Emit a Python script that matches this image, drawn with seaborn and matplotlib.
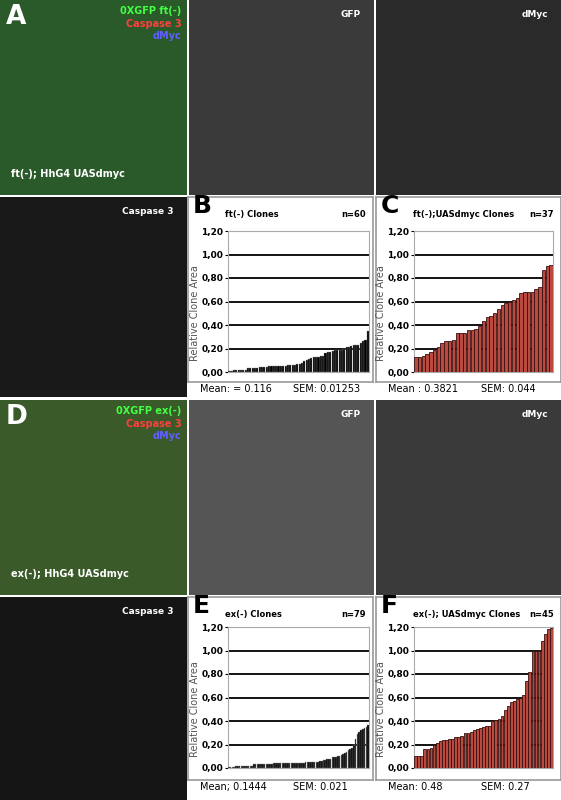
import matplotlib

matplotlib.use("Agg")
import matplotlib.pyplot as plt
import numpy as np
import pandas as pd
import seaborn as sns

W, H = 561, 800

ft_clones = [0.01, 0.01, 0.02, 0.02, 0.02, 0.02, 0.02, 0.02, 0.03, 0.03,
             0.03, 0.03, 0.03, 0.04, 0.04, 0.04, 0.04, 0.05, 0.05, 0.05,
             0.05, 0.05, 0.05, 0.05, 0.05, 0.06, 0.06, 0.06, 0.06, 0.07,
             0.07, 0.08, 0.09, 0.10, 0.11, 0.12, 0.13, 0.13, 0.13, 0.14,
             0.14, 0.16, 0.17, 0.17, 0.18, 0.19, 0.19, 0.19, 0.19, 0.20,
             0.21, 0.21, 0.22, 0.23, 0.23, 0.23, 0.25, 0.26, 0.27, 0.35]
ft_myc_clones = [0.13, 0.13, 0.14, 0.15, 0.17, 0.19, 0.21, 0.25, 0.26, 0.26,
                 0.27, 0.33, 0.33, 0.33, 0.36, 0.36, 0.37, 0.39, 0.43, 0.47,
                 0.48, 0.50, 0.54, 0.57, 0.59, 0.60, 0.61, 0.63, 0.67, 0.68,
                 0.68, 0.68, 0.71, 0.72, 0.87, 0.90, 0.91]
ex_clones = [0.01] * 4 + [0.02] * 10 + [0.03] * 11 + [0.04] * 18 + [0.05] * 8 + \
            [0.06, 0.06, 0.07, 0.07, 0.08, 0.08, 0.08, 0.09, 0.09,
             0.09, 0.10, 0.10, 0.11, 0.12, 0.13, 0.14, 0.15, 0.16, 0.17,
             0.20, 0.25, 0.29, 0.31, 0.32, 0.33, 0.34, 0.35, 0.37]
ex_myc_clones = [0.10, 0.10, 0.10, 0.16, 0.16, 0.17, 0.20, 0.21, 0.23, 0.24,
                 0.24, 0.25, 0.25, 0.26, 0.26, 0.27, 0.30, 0.30, 0.31, 0.32,
                 0.33, 0.34, 0.35, 0.36, 0.36, 0.40, 0.41, 0.42, 0.44, 0.49,
                 0.53, 0.56, 0.57, 0.59, 0.60, 0.62, 0.74, 0.82, 1.00, 1.00,
                 1.00, 1.08, 1.14, 1.18, 1.19]
yticks = [0.0, 0.2, 0.4, 0.6, 0.8, 1.0, 1.2]
ytick_labels = ["0,00", "0,20", "0,40", "0,60", "0,80", "1,00", "1,20"]


def px(x, y, w, h):
    return [x / W, 1 - (y + h) / H, w / W, h / H]


fig = plt.figure(figsize=(W / 100, H / 100), dpi=100)
fig.patch.set_facecolor("white")


def image_panel(rect, label=None, caption=None, color="#1a1a1a", corner=None, legend=None):
    ax = fig.add_axes(px(*rect))
    ax.set_facecolor(color)
    ax.set_xticks([])
    ax.set_yticks([])
    for s in ax.spines.values():
        s.set_visible(False)
    if label:
        ax.text(0.03, 0.98, label, transform=ax.transAxes, fontsize=19, fontweight="bold",
                color="white", va="top", ha="left")
    if corner:
        ax.text(0.93, 0.95, corner, transform=ax.transAxes, fontsize=6.5, fontweight="bold",
                color="white", va="top", ha="right")
    if legend:
        for i, (t, c) in enumerate(legend):
            ax.text(0.97, 0.97 - i * 0.065, t, transform=ax.transAxes, fontsize=7,
                    fontweight="bold", color=c, va="top", ha="right")
    if caption:
        ax.text(0.06, 0.08, caption, transform=ax.transAxes, fontsize=7, fontweight="bold",
                color="white", va="bottom", ha="left")


image_panel((0, 0, 187, 195), "A", "ft(-); HhG4 UASdmyc", "#2a5a2a",
            legend=[("0XGFP ft(-)", "#44ff44"), ("Caspase 3", "#ff4040"), ("dMyc", "#6060ff")])
image_panel((189, 0, 185, 195), corner="GFP", color="#3a3a3a")
image_panel((376, 0, 185, 195), corner="dMyc", color="#2a2a2a")
image_panel((0, 197, 187, 200), corner="Caspase 3", color="#181818")
image_panel((0, 400, 187, 195), "D", "ex(-); HhG4 UASdmyc", "#3a5a2a",
            legend=[("0XGFP ex(-)", "#44ff44"), ("Caspase 3", "#ff4040"), ("dMyc", "#6060ff")])
image_panel((189, 400, 185, 195), corner="GFP", color="#555555")
image_panel((376, 400, 185, 195), corner="dMyc", color="#3a3a3a")
image_panel((0, 597, 187, 203), corner="Caspase 3", color="#151515")


def bar_panel(box, axrect, letter, title, n, values, color, edge, lw, mean, sem):
    bx = fig.add_axes(px(*box))
    bx.set_xticks([])
    bx.set_yticks([])
    for s in bx.spines.values():
        s.set_color("#999999")
        s.set_linewidth(1.2)
    bx.text(0.025, 1.015, letter, transform=bx.transAxes, fontsize=18, fontweight="bold",
            va="top", ha="left")
    bx.text(0.2, 0.93, title, transform=bx.transAxes, fontsize=6, fontweight="bold",
            va="top", ha="left")
    bx.text(0.96, 0.93, n, transform=bx.transAxes, fontsize=6, fontweight="bold",
            va="top", ha="right")
    ax = fig.add_axes(px(*axrect))
    df = pd.DataFrame({"clone": np.arange(len(values)), "area": values})
    sns.barplot(data=df, x="clone", y="area", color=color, edgecolor=edge, linewidth=lw,
                width=0.9, saturation=1, ax=ax, zorder=3)
    ax.set_ylim(0, 1.2)
    ax.set_yticks(yticks)
    ax.set_yticklabels(ytick_labels, fontsize=6.5, fontweight="bold")
    ax.set_xticks([])
    ax.set_xlabel("")
    ax.set_ylabel("Relative Clone Area", fontsize=7, color="#555555", labelpad=0)
    ax.yaxis.set_label_coords(-0.2, 0.42)
    for y in yticks[1:]:
        ax.axhline(y, color="black", lw=1.3, zorder=1)
    for s in ax.spines.values():
        s.set_color("#aaaaaa")
    ax.tick_params(axis="y", length=2.5, pad=1)
    fig.text((box[0] + 12) / W, 1 - (box[1] + box[3] + 7) / H, "Mean" + mean,
             fontsize=7, va="center")
    fig.text((box[0] + 105) / W, 1 - (box[1] + box[3] + 7) / H, "SEM: " + sem,
             fontsize=7, va="center")


bar_panel((188, 197, 185, 185), (228, 231, 141, 141), "B", "ft(-) Clones", "n=60",
          ft_clones, "black", "#888888", 0.25, ": = 0.116", "0.01253")
bar_panel((376, 197, 185, 185), (414, 231, 139, 141), "C", "ft(-);UASdmyc Clones", "n=37",
          ft_myc_clones, "#b84a40", "#3a1010", 0.6, " : 0.3821", "0.044")
bar_panel((188, 597, 185, 183), (228, 627, 141, 141), "E", "ex(-) Clones", "n=79",
          ex_clones, "black", "#888888", 0.25, "; 0.1444", "0.021")
bar_panel((376, 597, 185, 183), (414, 627, 139, 141), "F", "ex(-); UASdmyc Clones", "n=45",
          ex_myc_clones, "#b84a40", "#3a1010", 0.6, ": 0.48", "0.27")

fig.savefig("out.png", dpi=100)
